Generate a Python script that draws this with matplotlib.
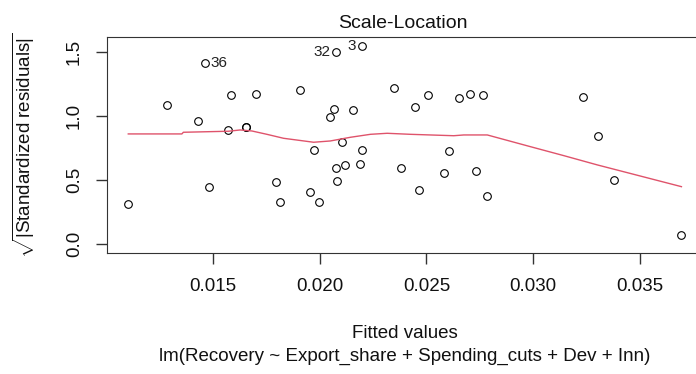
import numpy as np
import matplotlib
matplotlib.use("Agg")
import matplotlib.pyplot as plt

plt.rcParams['font.family'] = ['Liberation Sans', 'DejaVu Sans']
plt.rcParams['mathtext.fontset'] = 'custom'
plt.rcParams['mathtext.rm'] = 'Liberation Sans'
plt.rcParams['mathtext.it'] = 'Liberation Sans'

# fitted values and sqrt(|standardized residuals|)
fitted = [0.01104, 0.01286, 0.01461, 0.01430, 0.01483, 0.01570, 0.01583, 0.01653, 0.01656,
          0.01703, 0.01797, 0.01816, 0.01908, 0.01953, 0.01972, 0.01995, 0.02047, 0.02065,
          0.02075, 0.02075, 0.02081, 0.02105, 0.02117, 0.02197, 0.02156, 0.02197, 0.02191,
          0.02349, 0.02448, 0.02506, 0.02383, 0.02464, 0.02581, 0.02605, 0.02652, 0.02705,
          0.02767, 0.02731, 0.02785, 0.03233, 0.03302, 0.03377, 0.03691]
sqrt_resid = [0.313, 1.086, 1.416, 0.961, 0.448, 0.895, 1.164, 0.914, 0.918,
              1.174, 0.484, 0.330, 1.203, 0.409, 0.737, 0.330, 0.997, 1.055,
              1.500, 0.594, 0.495, 0.797, 0.622, 1.552, 1.049, 0.737, 0.630,
              1.221, 1.075, 1.164, 0.594, 0.427, 0.555, 0.729, 1.143, 1.174,
              1.164, 0.573, 0.380, 1.153, 0.844, 0.505, 0.070]

# smoother line
smooth_x = [0.01104, 0.01355, 0.01362, 0.01573, 0.01628, 0.01683, 0.01753, 0.01831, 0.01972,
            0.02050, 0.02145, 0.02238, 0.02316, 0.02425, 0.02628, 0.02675, 0.02785, 0.02988,
            0.03144, 0.03300, 0.03694]
smooth_y = [0.862, 0.862, 0.875, 0.883, 0.893, 0.885, 0.859, 0.828, 0.797,
            0.807, 0.836, 0.859, 0.867, 0.859, 0.848, 0.854, 0.854, 0.762,
            0.692, 0.620, 0.450]

# labelled points: (index, label, side)
labelled = [(2, '36', 'right'), (18, '32', 'left'), (23, '3', 'left')]

fig = plt.figure(figsize=(6.96, 3.74), dpi=100)
ax = fig.add_axes([106.7 / 696, 121.3 / 374, (703 - 106.7) / 696, (252.7 - 37.3) / 374])

ax.plot(fitted, sqrt_resid, 'o', mfc='none', mec='black', ms=5.5, mew=0.8)
ax.plot(smooth_x, smooth_y, color='#DF536B', lw=1)

for i, lab, side in labelled:
    if side == 'right':
        ax.annotate(lab, (fitted[i], sqrt_resid[i]), xytext=(4, 0), textcoords='offset points',
                    ha='left', va='center', fontsize=11, color='#222222')
    else:
        ax.annotate(lab, (fitted[i], sqrt_resid[i]), xytext=(-4, 0), textcoords='offset points',
                    ha='right', va='center', fontsize=11, color='#222222')

ax.set_xlim(0.01003, 0.03795)
ax.set_ylim(-0.066, 1.617)
ax.set_xticks([0.015, 0.020, 0.025, 0.030, 0.035])
ax.set_xticklabels(['0.015', '0.020', '0.025', '0.030', '0.035'])
ax.set_yticks([0.0, 0.5, 1.0, 1.5])
ax.set_yticklabels(['0.0', '0.5', '1.0', '1.5'], rotation=90, va='center')
ax.tick_params(length=8, width=1, color='#333333', labelsize=13.5, labelcolor='#111111')
ax.tick_params(axis='x', pad=10.5)
ax.tick_params(axis='y', pad=9)
for s in ax.spines.values():
    s.set_color('#333333')

fig.text(403 / 696, 1 - 28.3 / 374, 'Scale-Location', ha='center', va='baseline', fontsize=14,
         color='#111111')
fig.text(24 / 696, 1 - 145 / 374, r'$\sqrt{|\mathrm{Standardized\ residuals}|}$', rotation=90,
         ha='center', va='center', fontsize=13.5, color='#111111')
fig.text(405 / 696, 1 - 333 / 374, 'Fitted values', ha='center', va='center', fontsize=13.5,
         color='#111111')
fig.text(405 / 696, 1 - 356 / 374, 'lm(Recovery ~ Export_share + Spending_cuts + Dev + Inn)',
         ha='center', va='center', fontsize=13.5, color='#111111')

fig.savefig('out.png', dpi=100)
